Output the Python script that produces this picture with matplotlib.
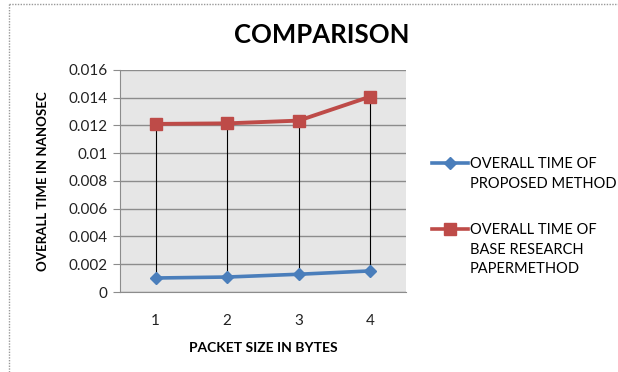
import matplotlib.pyplot as plt
from matplotlib.lines import Line2D
from matplotlib.ticker import FuncFormatter

plt.rcParams['font.family'] = ['Lato', 'DejaVu Sans']

paket = [1, 2, 3, 4]
onerilen = [0.00101, 0.00108, 0.00128, 0.00152]
temel = [0.01211, 0.01215, 0.01235, 0.01408]
y_ticks = [0, 0.002, 0.004, 0.006, 0.008, 0.01, 0.012, 0.014, 0.016]
etiketler = ["OVERALL TIME OF\nPROPOSED METHOD",
             "OVERALL TIME OF\nBASE RESEARCH\nPAPERMETHOD"]
renkler = ["#4a7ebb", "#be4b48"]
isaretler = ["D", "s"]

fig = plt.figure(figsize=(6.18, 3.72), dpi=100)
ax = fig.add_axes([0.194, 0.215, 0.463, 0.597])
ax.set_facecolor("#e6e6e6")

x = range(len(paket))
# high-low lines
ax.vlines(x, onerilen, temel, color="black", lw=0.8, zorder=2)
ax.plot(x, onerilen, color=renkler[0], lw=2.6, marker="D", ms=6.5, zorder=3)
ax.plot(x, temel, color=renkler[1], lw=2.8, marker="s", ms=8.5, zorder=3)

ax.set_xlim(-0.5, 3.5)
ax.set_ylim(0, 0.016)
ax.set_yticks(y_ticks)
ax.yaxis.set_major_formatter(FuncFormatter(lambda v, p: "%g" % v))
ax.set_xticks(list(x))
ax.set_xticklabels([str(p) for p in paket])
ax.grid(axis="y", color="#8c8c8c", lw=1)
ax.set_axisbelow(True)
for s in ["top", "right"]:
    ax.spines[s].set_visible(False)
ax.spines["left"].set_color("#8c8c8c")
ax.spines["bottom"].set_color("#8c8c8c")
ax.tick_params(axis="y", length=5, color="#8c8c8c", labelsize=11, pad=4)
ax.tick_params(axis="x", length=0, labelsize=11, pad=16)
for t in ax.get_yticklabels() + ax.get_xticklabels():
    t.set_color("#222222")

ax.set_xlabel("PACKET SIZE IN BYTES", fontsize=10, fontweight="bold", labelpad=10)
ax.set_ylabel("OVERALL TIME IN NANOSEC", fontsize=9.5, fontweight="bold", labelpad=14)
fig.text(0.52, 0.905, "COMPARISON", ha="center", va="center", fontsize=18.5, fontweight="bold")

# legend drawn by hand so the marker sits on the first text line
legend_y = [1 - 163 / 372, 1 - 229 / 372]
for etiket, renk, isaret, ly in zip(etiketler, renkler, isaretler, legend_y):
    fig.add_artist(Line2D([432 / 618, 468 / 618], [ly, ly], color=renk, lw=2.6))
    fig.add_artist(Line2D([450 / 618], [ly], color=renk, marker=isaret,
                          ms=6.5 if isaret == "D" else 8.5, ls="none"))
    fig.text(470 / 618, ly + 6 / 372, etiket, ha="left", va="top", fontsize=10.5,
             linespacing=1.5)

# outer dotted border
fig.add_artist(Line2D([0.015, 0.015], [0, 0.99], color="#999999", lw=1, ls=(0, (1, 1))))
fig.add_artist(Line2D([0.015, 1], [0.99, 0.99], color="#999999", lw=1, ls=(0, (1, 1))))

fig.savefig("out.png", dpi=100)
